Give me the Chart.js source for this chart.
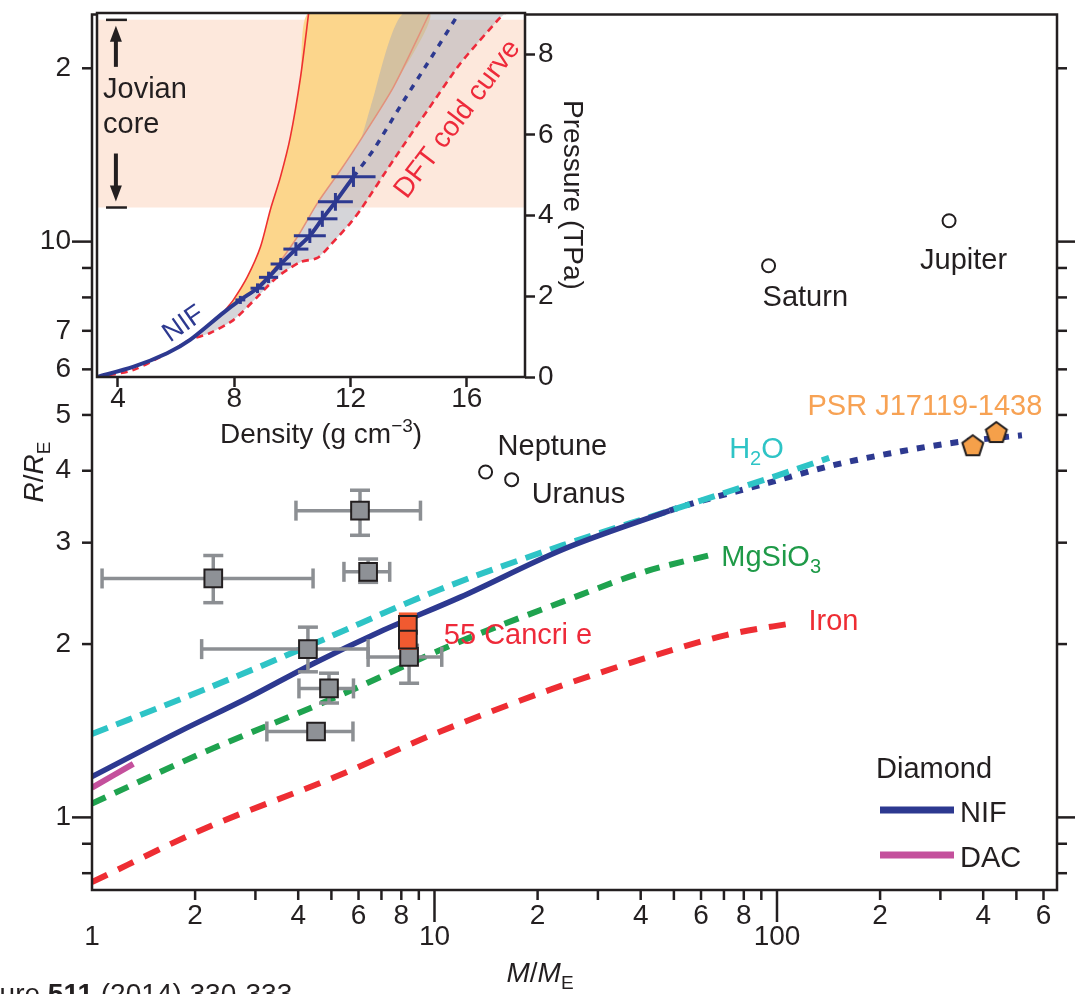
<!DOCTYPE html>
<html>
<head>
<meta charset="utf-8">
<script src="https://cdn.jsdelivr.net/npm/chart.js@4.4.1/dist/chart.umd.min.js"></script>
<style>
  html, body { margin: 0; padding: 0; background: #fff; }
  #wrap { position: relative; width: 1078px; height: 994px; overflow: hidden; }
  #main, #inset { position: absolute; left: 0; top: 0; }
</style>
</head>
<body>
<div id="wrap">
  <canvas id="main" width="1078" height="994"></canvas>
  <canvas id="inset" width="640" height="460"></canvas>
</div>
<script>
// ---- main panel: mass (M/ME) vs radius (R/RE) ----
const nifMass = [1, 1.81, 2.84, 4.42, 6.93, 11.9, 23.7, 48.6];
const nifRadius = [1.177, 1.412, 1.61, 1.849, 2.101, 2.413, 2.92, 3.41];
const nifExtMass = [48.6, 54, 94.3, 146, 215, 324, 519];
const nifExtRadius = [3.41, 3.48, 3.81, 4.09, 4.29, 4.47, 4.61];
const dacMass = [1, 1.32];
const dacRadius = [1.126, 1.239];
const h2oMass = [1, 2.07, 4.33, 10.4, 23.7, 48.6, 99.6, 142];
const h2oRadius = [1.396, 1.656, 1.99, 2.49, 2.97, 3.41, 3.92, 4.21];
const mgsio3Mass = [1, 2.07, 5.06, 11.4, 23.7, 41, 63];
const mgsio3Radius = [1.057, 1.289, 1.61, 2.0, 2.37, 2.67, 2.85];
const ironMass = [1, 2.07, 5.06, 10.4, 22, 41, 71.5, 114];
const ironRadius = [0.772, 0.949, 1.172, 1.41, 1.67, 1.888, 2.075, 2.18];

// exoplanets with error bars
const obsMass = [2.26, 6.06, 6.4, 4.27, 4.92, 4.51, 8.43];
const obsMassLo = [1.07, 3.94, 5.44, 2.09, 4.02, 3.24, 6.4];
const obsMassHi = [4.42, 9.1, 7.4, 6.4, 5.8, 5.78, 10.5];
const obsRadius = [2.60, 3.41, 2.67, 1.96, 1.675, 1.41, 1.90];
const obsRadiusLo = [2.36, 3.09, 2.56, 1.79, 1.58, 1.41, 1.71];
const obsRadiusHi = [2.85, 3.70, 2.81, 2.14, 1.78, 1.41, 1.99];

const cancriMass = [8.36, 8.36];
const cancriRadius = [2.16, 2.036];
const cancriRadiusLo = [2.16, 1.965];
const cancriRadiusHi = [2.256, 2.036];

const psrMass = [373, 437];
const psrRadius = [4.43, 4.67];

const planetNames = ['Neptune', 'Uranus', 'Saturn', 'Jupiter'];
const planetMass = [14.1, 16.8, 94.5, 318];
const planetRadius = [3.98, 3.86, 9.08, 10.87];

const xTickValues = [1, 2, 3, 4, 5, 6, 7, 8, 9, 10, 20, 30, 40, 50, 60, 70, 80, 90, 100, 200, 300, 400, 500, 600];
const xTickText = ['1', '2', '', '4', '', '6', '', '8', '', '10', '2', '', '4', '', '6', '', '8', '', '100', '2', '', '4', '', '6'];
const xMajorTicks = [10, 100];
const xLowRow = [1, 10, 100];
const yTickValues = [0.8, 0.9, 1, 2, 3, 4, 5, 6, 7, 8, 9, 10, 20];
const yTickText = ['', '', '1', '2', '3', '4', '5', '6', '7', '', '', '10', '2'];
const yMajorTicks = [1, 10];

// ---- inset: density vs pressure ----
const jovianCoreLow = 4.2;
const jovianCoreHigh = 8.85;
const nifInsetDensity = [3.28, 4.52, 5.69, 6.48, 7.62];
const nifInsetPressure = [0, 0.25, 0.59, 0.92, 1.59];
const crossDensity = [8.21, 8.8, 9.18, 9.6, 10.12, 10.6, 11.03, 11.48, 12.10];
const crossPressure = [1.91, 2.2, 2.47, 2.8, 3.17, 3.5, 3.92, 4.34, 4.96];
const crossDensityErr = [0.17, 0.24, 0.33, 0.35, 0.43, 0.55, 0.52, 0.6, 0.76];
const crossPressureErr = [0.1, 0.12, 0.14, 0.15, 0.17, 0.18, 0.2, 0.22, 0.25];
const nifDottedDensity = [12.10, 12.79, 13.72, 14.76, 15.69];
const nifDottedPressure = [4.96, 5.63, 6.72, 7.9, 8.97];
const redEdgeDensity = [7.69, 7.97, 8.45, 8.9, 9.24, 9.59, 9.93, 10.28, 10.56];
const redEdgePressure = [1.66, 1.91, 2.48, 3.22, 4.14, 4.96, 5.95, 7.43, 9.02];
const salmonDensity = [7.86, 8.55, 9.34, 10.17, 10.86, 11.66, 12.34, 13.48, 14.72];
const salmonPressure = [1.73, 2.08, 2.65, 3.47, 4.31, 5.13, 5.87, 7.19, 9.02];
const grayEdgeDensity = [12.69, 13.83];
const grayEdgePressure = [6.69, 9.02];
const dftDensity = [3.28, 4.52, 5.9, 6.48, 7.17, 7.97, 8.79, 9.48, 10.28, 10.86, 11.31, 12.0, 12.34, 13.48, 14.66, 15.79, 17.07, 17.3];
const dftPressure = [0, 0.17, 0.67, 0.92, 1.09, 1.41, 1.98, 2.48, 2.85, 2.95, 3.27, 3.82, 4.14, 5.38, 6.62, 7.78, 8.85, 9.02];
const insetDensityTicks = [4, 8, 12, 16];
const insetPressureTicks = [0, 2, 4, 6, 8];

const FONT = "'Liberation Sans', Arial, Helvetica, sans-serif";
const INK = '#231f20';
const NAVY = '#2d3990';
Chart.defaults.font.family = FONT;
Chart.defaults.color = INK;

const pts = (xs, ys) => xs.map((x, i) => ({ x, y: ys[i] }));

function curve(xs, ys, color, width, dash, order) {
  return {
    data: pts(xs, ys), borderColor: color, borderWidth: width, borderDash: dash,
    pointRadius: 0, cubicInterpolationMode: 'monotone', fill: false, order, borderCapStyle: 'butt'
  };
}

// no extra room for labels at the ends of the axes
function noPad(s) {
  s.paddingTop = 0; s.paddingBottom = 0; s.paddingLeft = 0; s.paddingRight = 0;
}

// text with sub/superscripts; parts = [text, 'sub'|'sup'|'', style]
function rich(ctx, parts, x, y, size, align, color) {
  const fontOf = p => `${p[2] || ''} ${p[1] ? Math.round(size * 0.68) : size}px ${FONT}`;
  let w = 0;
  parts.forEach(p => { ctx.font = fontOf(p); w += ctx.measureText(p[0]).width; });
  let cx = align === 'center' ? x - w / 2 : align === 'right' ? x - w : x;
  ctx.fillStyle = color;
  ctx.textAlign = 'left';
  ctx.textBaseline = 'alphabetic';
  parts.forEach(p => {
    ctx.font = fontOf(p);
    const dy = p[1] === 'sub' ? size * 0.25 : p[1] === 'sup' ? -size * 0.4 : 0;
    ctx.fillText(p[0], cx, y + dy);
    cx += ctx.measureText(p[0]).width;
  });
}

function line(ctx, x1, y1, x2, y2) {
  ctx.beginPath(); ctx.moveTo(x1, y1); ctx.lineTo(x2, y2); ctx.stroke();
}

function errorBars(chart, e) {
  const { ctx } = chart;
  const sx = chart.scales.x, sy = chart.scales.y;
  ctx.save();
  ctx.strokeStyle = e.color;
  ctx.lineWidth = e.width;
  e.x.forEach((xv, i) => {
    const px = sx.getPixelForValue(xv), py = sy.getPixelForValue(e.y[i]);
    if (e.xlo) {
      const a = sx.getPixelForValue(e.xlo[i]), b = sx.getPixelForValue(e.xhi[i]);
      if (b - a > 2) {
        line(ctx, a, py, b, py);
        line(ctx, a, py - e.cap, a, py + e.cap);
        line(ctx, b, py - e.cap, b, py + e.cap);
      }
    }
    const a = sy.getPixelForValue(e.ylo[i]), b = sy.getPixelForValue(e.yhi[i]);
    if (Math.abs(b - a) > 2) {
      line(ctx, px, a, px, b);
      line(ctx, px - e.cap, a, px + e.cap, a);
      line(ctx, px - e.cap, b, px + e.cap, b);
    }
  });
  ctx.restore();
}

// pentagon marker for PSR J1719-1438 b
const pentagon = document.createElement('canvas');
pentagon.width = 28; pentagon.height = 28;
(() => {
  const c = pentagon.getContext('2d');
  c.beginPath();
  for (let k = 0; k < 5; k++) {
    const a = -Math.PI / 2 + k * 2 * Math.PI / 5;
    const px = 14 + 11 * Math.cos(a), py = 15 + 11 * Math.sin(a);
    k ? c.lineTo(px, py) : c.moveTo(px, py);
  }
  c.closePath();
  c.fillStyle = '#f5a04a'; c.fill();
  c.lineWidth = 2; c.strokeStyle = INK; c.stroke();
})();

const mainDecor = {
  id: 'mainDecor',
  beforeDatasetDraw(chart, args) {
    const ds = chart.data.datasets[args.index];
    if (ds.errors) errorBars(chart, ds.errors);
  },
  afterDraw(chart) {
    const { ctx, chartArea: ca } = chart;
    const sx = chart.scales.x, sy = chart.scales.y;
    ctx.save();
    ctx.strokeStyle = INK;
    ctx.lineWidth = 2.5;
    ctx.strokeRect(ca.left, ca.top, ca.right - ca.left, ca.bottom - ca.top);
    xTickValues.forEach(v => {
      if (v === 1) return;
      const p = sx.getPixelForValue(v);
      line(ctx, p, ca.bottom, p, ca.bottom + (xMajorTicks.includes(v) ? 32 : 10));
    });
    yTickValues.forEach(v => {
      const p = sy.getPixelForValue(v);
      const major = yMajorTicks.includes(v);
      line(ctx, ca.left - (major ? 20 : 10), p, ca.left, p);
      line(ctx, ca.right, p, ca.right + (major ? 18 : 10), p);
    });

    // planet labels
    const at = (m, r) => [sx.getPixelForValue(m), sy.getPixelForValue(r)];
    const planetOffsets = [[12, -17], [20, 23], [-6, 40], [-29, 48]];
    planetNames.forEach((n, i) => {
      const [px, py] = at(planetMass[i], planetRadius[i]);
      rich(ctx, [[n]], px + planetOffsets[i][0], py + planetOffsets[i][1], 29, 'left', INK);
    });
    let [px, py] = at(psrMass[1], psrRadius[1]);
    rich(ctx, [['PSR J17119-1438']], px + 46, py - 17, 29, 'right', '#f7a254');
    [px, py] = at(h2oMass[h2oMass.length - 1], h2oRadius[h2oRadius.length - 1]);
    rich(ctx, [['H'], ['2', 'sub'], ['O']], px - 100, py, 29, 'left', '#2ec4c6');
    [px, py] = at(mgsio3Mass[mgsio3Mass.length - 1], mgsio3Radius[mgsio3Radius.length - 1]);
    rich(ctx, [['MgSiO'], ['3', 'sub']], px + 13, py + 10, 29, 'left', '#1f9a48');
    [px, py] = at(ironMass[ironMass.length - 1], ironRadius[ironRadius.length - 1]);
    rich(ctx, [['Iron']], px + 12, py + 7, 29, 'left', '#ee2d33');
    [px, py] = at(cancriMass[0], cancriRadius[0]);
    rich(ctx, [['55 Cancri e']], px + 36, py + 19, 29, 'left', '#ee2a3a');

    // legend
    rich(ctx, [['Diamond']], 876, 778, 29, 'left', INK);
    ctx.lineWidth = 7;
    ctx.strokeStyle = NAVY; line(ctx, 880, 810, 954, 810);
    ctx.strokeStyle = '#c4509c'; line(ctx, 880, 855, 954, 855);
    rich(ctx, [['NIF']], 960, 822, 29, 'left', INK);
    rich(ctx, [['DAC']], 960, 867, 29, 'left', INK);

    // axis titles
    rich(ctx, [['M', '', 'italic'], ['/'], ['M', '', 'italic'], ['E', 'sub']], 540, 982, 28, 'center', INK);
    ctx.save();
    ctx.translate(43, 472);
    ctx.rotate(-Math.PI / 2);
    rich(ctx, [['R', '', 'italic'], ['/'], ['R', '', 'italic'], ['E', 'sub']], 0, 0, 28, 'center', INK);
    ctx.restore();

    // source line (cut by the page edge)
    rich(ctx, [['Nature '], ['511', '', 'bold'], [' (2014) 330-333']], -44, 1003, 28, 'left', INK);
    ctx.restore();
  }
};

new Chart(document.getElementById('main'), {
  type: 'line',
  data: {
    datasets: [
      { data: pts(cancriMass, cancriRadius), showLine: false, pointStyle: 'rect', pointRadius: 12.5,
        backgroundColor: '#f15a30', borderColor: INK, borderWidth: 2, order: 0,
        errors: { x: cancriMass, y: cancriRadius, ylo: cancriRadiusLo, yhi: cancriRadiusHi, color: '#f15a30', width: 3, cap: 9 } },
      { data: pts(obsMass, obsRadius), showLine: false, pointStyle: 'rect', pointRadius: 12.5,
        backgroundColor: '#8e9196', borderColor: INK, borderWidth: 2, order: 1,
        errors: { x: obsMass, y: obsRadius, xlo: obsMassLo, xhi: obsMassHi, ylo: obsRadiusLo, yhi: obsRadiusHi, color: '#8c8f93', width: 3.5, cap: 10 } },
      { data: pts(psrMass, psrRadius), showLine: false, pointStyle: pentagon, pointRadius: 11, order: 2 },
      { data: pts(planetMass, planetRadius), showLine: false, pointStyle: 'circle', pointRadius: 6.5,
        backgroundColor: '#fff', borderColor: INK, borderWidth: 2, order: 3 },
      curve(nifMass, nifRadius, NAVY, 5.5, [], 4),
      curve(dacMass, dacRadius, '#c4509c', 6, [], 5),
      curve(h2oMass, h2oRadius, '#2ec4c6', 6, [17, 9], 6),
      curve(mgsio3Mass, mgsio3Radius, '#1fa34f', 6, [15, 10], 7),
      curve(ironMass, ironRadius, '#ee2d33', 6, [17, 12], 8),
      curve(nifExtMass, nifExtRadius, NAVY, 6, [8, 9], 9)
    ]
  },
  options: {
    responsive: false, animation: false, events: [],
    layout: { padding: { top: 8, left: 0, right: 0, bottom: 0 } },
    plugins: { legend: { display: false }, tooltip: { enabled: false } },
    scales: {
      x: {
        type: 'logarithmic', position: 'bottom', min: 1, max: 657, bounds: 'data',
        afterBuildTicks: s => { s.ticks = xTickValues.map(v => ({ value: v })); s.min = 1; s.max = 657; },
        afterFit: s => { s.height = 104; noPad(s); },
        grid: { display: false, drawTicks: false }, border: { display: false },
        ticks: {
          autoSkip: false, maxRotation: 0, minRotation: 0, padding: 16, color: INK,
          font: { size: 28, lineHeight: 0.75 },
          callback: v => {
            const t = xTickText[xTickValues.indexOf(v)] || '';
            return xLowRow.includes(v) ? ['', t] : t;
          }
        }
      },
      y: {
        type: 'logarithmic', position: 'left', min: 0.748, max: 24.8, bounds: 'data',
        afterBuildTicks: s => { s.ticks = yTickValues.map(v => ({ value: v })); s.min = 0.748; s.max = 24.8; },
        afterFit: s => { s.width = 92; noPad(s); },
        grid: { display: false, drawTicks: false }, border: { display: false },
        ticks: {
          autoSkip: false, padding: 21, color: INK, font: { size: 28 },
          callback: v => yTickText[yTickValues.indexOf(v)] || ''
        }
      },
      y2: {
        type: 'logarithmic', position: 'right', min: 0.748, max: 24.8, bounds: 'data',
        afterFit: s => { s.width = 21; noPad(s); },
        grid: { display: false, drawTicks: false }, border: { display: false },
        ticks: { display: false }
      }
    }
  },
  plugins: [mainDecor]
});

// ---------------- inset ----------------
const insetDecor = {
  id: 'insetDecor',
  beforeDraw(chart) {
    const { ctx, chartArea: ca } = chart;
    ctx.save();
    ctx.fillStyle = '#fff';
    ctx.fillRect(ca.left, ca.top, ca.right - ca.left, ca.bottom - ca.top);
    ctx.restore();
  },
  afterDatasetsDraw(chart) {
    const { ctx, chartArea: ca } = chart;
    const sx = chart.scales.x, sy = chart.scales.y;
    ctx.save();
    // NIF error crosses
    ctx.strokeStyle = NAVY;
    ctx.lineWidth = 3;
    crossDensity.forEach((d, i) => {
      const px = sx.getPixelForValue(d), py = sy.getPixelForValue(crossPressure[i]);
      line(ctx, sx.getPixelForValue(d - crossDensityErr[i]), py, sx.getPixelForValue(d + crossDensityErr[i]), py);
      line(ctx, px, sy.getPixelForValue(crossPressure[i] - crossPressureErr[i]), px, sy.getPixelForValue(crossPressure[i] + crossPressureErr[i]));
    });

    // frame
    ctx.strokeStyle = INK;
    ctx.lineWidth = 2.5;
    ctx.strokeRect(ca.left, ca.top, ca.right - ca.left, ca.bottom - ca.top);

    // Jovian core marker
    const ax = sx.getPixelForValue(3.93);
    const bx1 = sx.getPixelForValue(3.59), bx2 = sx.getPixelForValue(4.31);
    const yTop = sy.getPixelForValue(jovianCoreHigh), yBot = sy.getPixelForValue(jovianCoreLow);
    ctx.fillStyle = INK;
    ctx.lineWidth = 2.5;
    line(ctx, bx1, yTop, bx2, yTop);
    line(ctx, bx1, yBot, bx2, yBot);
    ctx.lineWidth = 4;
    line(ctx, ax, yTop + 20, ax, yTop + 47);
    line(ctx, ax, yBot - 54, ax, yBot - 20);
    ctx.beginPath();
    ctx.moveTo(ax, yTop + 6); ctx.lineTo(ax - 6, yTop + 22); ctx.lineTo(ax + 6, yTop + 22); ctx.closePath(); ctx.fill();
    ctx.beginPath();
    ctx.moveTo(ax, yBot - 6); ctx.lineTo(ax - 6, yBot - 22); ctx.lineTo(ax + 6, yBot - 22); ctx.closePath(); ctx.fill();
    rich(ctx, [['Jovian']], ca.left + 6, yTop + 78, 29, 'left', INK);
    rich(ctx, [['core']], ca.left + 6, yTop + 113, 29, 'left', INK);

    // curve labels
    ctx.save();
    ctx.translate(sx.getPixelForValue(6.21), sy.getPixelForValue(1.36));
    ctx.rotate(-35 * Math.PI / 180);
    rich(ctx, [['NIF']], 0, 10, 27, 'center', NAVY);
    ctx.restore();
    ctx.save();
    ctx.translate(sx.getPixelForValue(15.62), sy.getPixelForValue(6.42));
    ctx.rotate(-53 * Math.PI / 180);
    rich(ctx, [['DFT cold curve']], 0, 10, 28, 'center', '#ee2a3a');
    ctx.restore();

    // axis titles
    rich(ctx, [['Density (g cm'], ['\u22123', 'sup'], [')']], 220, 443, 28, 'left', INK);
    ctx.save();
    ctx.translate(564, 195);
    ctx.rotate(Math.PI / 2);
    rich(ctx, [['Pressure (TPa)']], 0, 0, 28, 'center', INK);
    ctx.restore();
    ctx.restore();
  }
};

const insetCurve = (xs, ys, color, width, dash, order) => Object.assign(curve(xs, ys, color, width, dash, order), { cubicInterpolationMode: 'default', tension: 0.25 });

new Chart(document.getElementById('inset'), {
  type: 'line',
  data: {
    datasets: [
      { data: pts([3.28, 18], [jovianCoreHigh, jovianCoreHigh]), fill: { value: jovianCoreLow },
        backgroundColor: '#fde8dc', borderColor: 'transparent', borderWidth: 0, pointRadius: 0, order: 20 },
      { data: pts(redEdgeDensity.concat(salmonDensity.slice().reverse()), redEdgePressure.concat(salmonPressure.slice().reverse())),
        fill: 'shape', backgroundColor: '#fcd68c', borderColor: 'transparent', borderWidth: 0, pointRadius: 0, tension: 0.2, order: 19 },
      { data: pts(
          [6.48, 6.83, 7.62].concat(salmonDensity.slice(1, 7), grayEdgeDensity, dftDensity.slice(3).reverse()),
          [0.92, 1.09, 1.59].concat(salmonPressure.slice(1, 7), grayEdgePressure, dftPressure.slice(3).reverse())),
        fill: 'shape', backgroundColor: 'rgba(172,172,180,0.5)', borderColor: 'transparent', borderWidth: 0, pointRadius: 0, tension: 0.2, order: 18 },
      insetCurve(salmonDensity, salmonPressure, '#e3917b', 1.5, [], 17),
      insetCurve(redEdgeDensity, redEdgePressure, '#ee3030', 1.6, [], 16),
      insetCurve(dftDensity, dftPressure, '#ee2a3a', 2.6, [7, 5], 15),
      insetCurve(nifDottedDensity, nifDottedPressure, NAVY, 3.5, [6, 7], 14),
      insetCurve(nifInsetDensity.concat(crossDensity), nifInsetPressure.concat(crossPressure), NAVY, 4, [], 13)
    ]
  },
  options: {
    responsive: false, animation: false, events: [],
    layout: { padding: { left: 97, top: 13, right: 0, bottom: 0 } },
    plugins: { legend: { display: false }, tooltip: { enabled: false } },
    scales: {
      x: {
        type: 'linear', min: 3.28, max: 18,
        afterBuildTicks: s => { s.ticks = insetDensityTicks.map(v => ({ value: v })); },
        afterFit: s => { s.height = 83; noPad(s); },
        grid: { display: true, drawOnChartArea: false, drawTicks: true, tickLength: 10, tickWidth: 2.5, tickColor: INK },
        border: { display: false },
        ticks: { autoSkip: false, maxRotation: 0, padding: -2, color: INK, font: { size: 28, lineHeight: 1 } }
      },
      y: {
        type: 'linear', position: 'right', min: 0, max: 9.02,
        afterBuildTicks: s => { s.ticks = insetPressureTicks.map(v => ({ value: v })); },
        afterFit: s => { s.width = 115; noPad(s); },
        grid: { display: true, drawOnChartArea: false, drawTicks: true, tickLength: 10, tickWidth: 2.5, tickColor: INK },
        border: { display: false },
        ticks: { autoSkip: false, padding: 3, color: INK, font: { size: 28 } }
      }
    }
  },
  plugins: [insetDecor]
});
</script>
</body>
</html>
